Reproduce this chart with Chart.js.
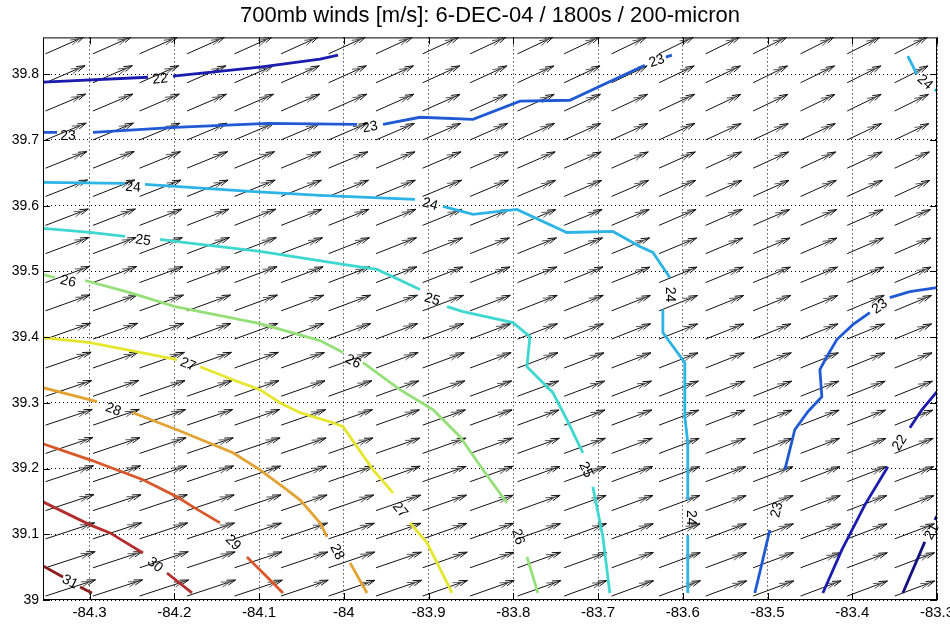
<!DOCTYPE html>
<html>
<head>
<meta charset="utf-8">
<script src="https://cdn.jsdelivr.net/npm/chart.js@4.4.0/dist/chart.umd.min.js"></script>
<style>
  html, body { margin: 0; padding: 0; background: #fff; }
</style>
</head>
<body>
<canvas id="chart-winds" width="950" height="628"></canvas>
<script>
// ============================== DATA

const titleText = '700mb winds [m/s]: 6-DEC-04 / 1800s / 200-micron';

const xTicks = [-84.3, -84.2, -84.1, -84.0, -83.9, -83.8, -83.7, -83.6, -83.5, -83.4, -83.3];
const yTicks = [39.0, 39.1, 39.2, 39.3, 39.4, 39.5, 39.6, 39.7, 39.8];

// quiver grid (tails), rows listed top to bottom
const arrowLon = [-84.352, -84.296, -84.241, -84.185, -84.129, -84.074, -84.018, -83.962, -83.907, -83.851,
                  -83.795, -83.740, -83.684, -83.628, -83.573, -83.517, -83.461, -83.406, -83.350];
const arrowLat = [39.831, 39.787, 39.744, 39.700, 39.657, 39.614, 39.570, 39.527, 39.483, 39.440,
                  39.397, 39.353, 39.310, 39.266, 39.223, 39.180, 39.136, 39.093, 39.049, 39.006];

// wind components [m/s]
const windU = [
  [20.5, 20.4, 20.3, 20.1, 20.0, 19.8, 19.7, 19.5, 19.3, 19.1, 18.9, 18.7, 18.5, 18.3, 18.1, 17.9, 17.7, 17.5, 17.4],
  [20.8, 20.7, 20.6, 20.4, 20.3, 20.1, 19.9, 19.7, 19.5, 19.3, 19.1, 18.9, 18.7, 18.5, 18.3, 18.1, 17.9, 17.7, 17.6],
  [21.1, 21.0, 20.9, 20.7, 20.5, 20.3, 20.1, 19.9, 19.7, 19.5, 19.3, 19.1, 18.9, 18.7, 18.5, 18.3, 18.1, 17.9, 17.8],
  [21.4, 21.3, 21.2, 21.0, 20.8, 20.6, 20.4, 20.2, 20.0, 19.8, 19.5, 19.3, 19.1, 18.9, 18.7, 18.5, 18.3, 18.1, 18.0],
  [21.8, 21.7, 21.5, 21.3, 21.1, 20.9, 20.7, 20.5, 20.2, 20.0, 19.8, 19.5, 19.3, 19.1, 18.9, 18.7, 18.5, 18.4, 18.3],
  [22.1, 22.0, 21.8, 21.6, 21.4, 21.2, 21.0, 20.7, 20.5, 20.2, 20.0, 19.8, 19.5, 19.3, 19.1, 18.9, 18.8, 18.6, 18.5],
  [22.5, 22.3, 22.2, 22.0, 21.7, 21.5, 21.3, 21.0, 20.7, 20.5, 20.2, 20.0, 19.8, 19.5, 19.3, 19.2, 19.0, 18.9, 18.8],
  [22.8, 22.7, 22.5, 22.3, 22.0, 21.8, 21.5, 21.3, 21.0, 20.7, 20.5, 20.2, 20.0, 19.8, 19.6, 19.4, 19.2, 19.1, 19.0],
  [23.1, 23.0, 22.8, 22.6, 22.4, 22.1, 21.8, 21.5, 21.2, 21.0, 20.7, 20.4, 20.2, 20.0, 19.8, 19.6, 19.4, 19.3, 19.2],
  [23.4, 23.3, 23.1, 22.9, 22.6, 22.4, 22.1, 21.8, 21.5, 21.2, 20.9, 20.6, 20.4, 20.2, 20.0, 19.8, 19.6, 19.5, 19.4],
  [23.7, 23.5, 23.3, 23.1, 22.8, 22.5, 22.2, 21.9, 21.6, 21.3, 21.0, 20.7, 20.5, 20.3, 20.1, 19.9, 19.7, 19.6, 19.5],
  [24.0, 23.8, 23.6, 23.4, 23.1, 22.8, 22.5, 22.2, 21.9, 21.6, 21.3, 21.0, 20.7, 20.5, 20.3, 20.1, 19.9, 19.8, 19.7],
  [24.3, 24.1, 23.9, 23.7, 23.4, 23.1, 22.8, 22.5, 22.2, 21.9, 21.6, 21.3, 21.0, 20.7, 20.5, 20.3, 20.1, 20.0, 19.9],
  [24.6, 24.4, 24.2, 24.0, 23.7, 23.4, 23.1, 22.8, 22.5, 22.1, 21.8, 21.5, 21.2, 20.9, 20.7, 20.5, 20.3, 20.2, 20.1],
  [24.9, 24.7, 24.5, 24.3, 24.0, 23.7, 23.4, 23.0, 22.7, 22.3, 22.0, 21.7, 21.4, 21.1, 20.9, 20.7, 20.5, 20.4, 20.3],
  [25.2, 25.0, 24.8, 24.5, 24.2, 23.9, 23.6, 23.2, 22.9, 22.5, 22.2, 21.9, 21.6, 21.3, 21.1, 20.9, 20.7, 20.6, 20.5],
  [25.5, 25.3, 25.1, 24.8, 24.5, 24.2, 23.8, 23.5, 23.1, 22.7, 22.4, 22.1, 21.8, 21.5, 21.3, 21.1, 20.9, 20.8, 20.7],
  [25.8, 25.6, 25.3, 25.0, 24.7, 24.4, 24.1, 23.7, 23.3, 22.9, 22.6, 22.3, 21.9, 21.6, 21.4, 21.2, 21.1, 21.0, 20.9],
  [26.1, 25.9, 25.6, 25.3, 25.0, 24.6, 24.3, 23.9, 23.5, 23.1, 22.7, 22.4, 22.0, 21.7, 21.5, 21.3, 21.2, 21.1, 21.0],
  [26.3, 26.1, 25.8, 25.5, 25.2, 24.8, 24.4, 24.0, 23.6, 23.2, 22.8, 22.4, 22.1, 21.8, 21.6, 21.4, 21.3, 21.2, 21.1],
];
const windV = [
  [11.7, 11.7, 11.6, 11.6, 11.6, 11.6, 11.6, 11.6, 11.5, 11.5, 11.5, 11.5, 11.5, 11.5, 11.5, 11.5, 11.5, 11.5, 11.5],
  [11.6, 11.6, 11.6, 11.5, 11.5, 11.5, 11.5, 11.5, 11.5, 11.4, 11.4, 11.4, 11.4, 11.4, 11.4, 11.4, 11.4, 11.4, 11.4],
  [11.5, 11.5, 11.5, 11.4, 11.4, 11.4, 11.4, 11.4, 11.3, 11.3, 11.3, 11.3, 11.3, 11.3, 11.3, 11.3, 11.3, 11.3, 11.3],
  [11.4, 11.4, 11.3, 11.3, 11.3, 11.3, 11.3, 11.2, 11.2, 11.2, 11.2, 11.2, 11.2, 11.2, 11.1, 11.1, 11.1, 11.1, 11.1],
  [11.3, 11.3, 11.2, 11.2, 11.2, 11.2, 11.1, 11.1, 11.1, 11.1, 11.1, 11.0, 11.0, 11.0, 11.0, 11.0, 11.0, 11.0, 11.0],
  [11.2, 11.2, 11.1, 11.1, 11.1, 11.0, 11.0, 11.0, 11.0, 11.0, 10.9, 10.9, 10.9, 10.9, 10.9, 10.9, 10.9, 10.9, 10.9],
  [11.1, 11.1, 11.0, 11.0, 11.0, 10.9, 10.9, 10.9, 10.9, 10.8, 10.8, 10.8, 10.8, 10.8, 10.8, 10.7, 10.7, 10.7, 10.7],
  [11.0, 11.0, 10.9, 10.9, 10.9, 10.8, 10.8, 10.8, 10.7, 10.7, 10.7, 10.7, 10.7, 10.6, 10.6, 10.6, 10.6, 10.6, 10.6],
  [10.9, 10.9, 10.8, 10.8, 10.8, 10.7, 10.7, 10.7, 10.6, 10.6, 10.6, 10.6, 10.5, 10.5, 10.5, 10.5, 10.5, 10.5, 10.5],
  [10.8, 10.8, 10.7, 10.7, 10.7, 10.6, 10.6, 10.6, 10.5, 10.5, 10.5, 10.5, 10.4, 10.4, 10.4, 10.4, 10.4, 10.4, 10.4],
  [10.7, 10.7, 10.7, 10.6, 10.6, 10.6, 10.5, 10.5, 10.5, 10.4, 10.4, 10.4, 10.4, 10.3, 10.3, 10.3, 10.3, 10.3, 10.3],
  [10.7, 10.7, 10.6, 10.6, 10.6, 10.5, 10.5, 10.5, 10.4, 10.4, 10.4, 10.3, 10.3, 10.3, 10.3, 10.3, 10.3, 10.3, 10.3],
  [10.7, 10.7, 10.6, 10.6, 10.6, 10.5, 10.5, 10.4, 10.4, 10.4, 10.3, 10.3, 10.3, 10.3, 10.2, 10.2, 10.2, 10.2, 10.2],
  [10.7, 10.7, 10.6, 10.6, 10.6, 10.5, 10.5, 10.4, 10.4, 10.4, 10.3, 10.3, 10.3, 10.2, 10.2, 10.2, 10.2, 10.2, 10.2],
  [10.8, 10.7, 10.7, 10.6, 10.6, 10.5, 10.5, 10.4, 10.4, 10.4, 10.3, 10.3, 10.3, 10.2, 10.2, 10.2, 10.2, 10.2, 10.2],
  [10.8, 10.8, 10.7, 10.7, 10.6, 10.6, 10.5, 10.5, 10.4, 10.4, 10.3, 10.3, 10.3, 10.2, 10.2, 10.2, 10.2, 10.2, 10.2],
  [10.9, 10.8, 10.8, 10.7, 10.7, 10.6, 10.6, 10.5, 10.5, 10.4, 10.4, 10.3, 10.3, 10.3, 10.2, 10.2, 10.2, 10.2, 10.2],
  [10.9, 10.9, 10.8, 10.8, 10.7, 10.7, 10.6, 10.6, 10.5, 10.5, 10.4, 10.4, 10.3, 10.3, 10.3, 10.2, 10.2, 10.2, 10.2],
  [11.0, 10.9, 10.9, 10.8, 10.8, 10.7, 10.7, 10.6, 10.6, 10.5, 10.5, 10.4, 10.4, 10.3, 10.3, 10.3, 10.2, 10.2, 10.2],
  [11.0, 11.0, 10.9, 10.9, 10.8, 10.8, 10.7, 10.7, 10.6, 10.6, 10.5, 10.5, 10.4, 10.4, 10.3, 10.3, 10.3, 10.2, 10.2],
];

// speed contours, null = gap left for the inline label
const lon21 = [-83.3403, -83.3144, null, -83.3026, -83.3000];
const lat21 = [39.0107, 39.0884, null, 39.1219, 39.1280];

const lon22 = [-84.355, -84.2311, null, -84.2016, -84.0989, -84.0281, -84.0068, null,
               -83.4347, -83.4123, -83.3851, -83.3580, null, -83.3320, -83.3179, -83.3000];
const lat22 = [39.7878, 39.7954, null, 39.7970, 39.8107, 39.8229, 39.8290, null,
               39.0107, 39.0762, 39.1448, 39.2027, null, 39.2621, 39.2895, 39.3170];

const lon23 = [-84.355, -84.3385, null, -84.2960, -84.1992, -84.0895, -83.9844, null,
               -83.9537, -83.9101, -83.8476, -83.7921, -83.7333, -83.6448, null, -83.6200, -83.6129, null,
               -83.5150, -83.5056, -83.4973, null, -83.4796, -83.4678, -83.4524, -83.4359, -83.4382, -83.4300,
               -83.4182, -83.3993, -83.3793, null, -83.3557, -83.3320, -83.3000];
const lat23 = [39.7116, 39.7116, null, 39.7116, 39.7192, 39.7253, 39.7238, null,
               39.7238, 39.7345, 39.7314, 39.7589, 39.7604, 39.8137, null, 39.8259, 39.8290, null,
               39.0107, 39.0610, 39.1067, null, 39.1981, 39.2590, 39.2865, 39.3093, 39.3505, 39.3703,
               39.3962, 39.4190, 39.4373, null, 39.4602, 39.4693, 39.4754];

const lon24 = [-83.3344, -83.3238, null, -83.3026, -83.3000, null,
               -84.355, -84.2582, null, -84.2346, -84.1992, -84.1107, -84.0281, -83.9160, null,
               -83.8829, -83.8476, -83.7957, -83.7368, -83.6825, -83.6507, -83.6353, -83.6153, null,
               -83.6235, -83.6235, -83.5976, -83.5976, -83.5941, -83.5941, null, -83.5941, -83.5941];
const lat24 = [39.8274, 39.8000, null, 39.7771, 39.7741, null,
               39.6354, 39.6339, null, 39.6324, 39.6293, 39.6217, 39.6156, 39.6095, null,
               39.5989, 39.5867, 39.5943, 39.5592, 39.5608, 39.5379, 39.5288, 39.4907, null,
               39.4419, 39.4069, 39.3611, 39.2789, 39.2392, 39.1524, null, 39.0990, 39.0107];

const lon25 = [-84.355, -84.2995, -84.2582, null, -84.2169, -84.1992, -84.0989, -84.0009, -83.9608, -83.9101, null,
               -83.8782, -83.8594, -83.8004, -83.7804, -83.7839, -83.7533, -83.7368, -83.7179, null,
               -83.7061, -83.6943, -83.6861];
const lat25 = [39.5653, 39.5592, 39.5531, null, 39.5486, 39.5455, 39.5303, 39.5105, 39.5029, 39.4724, null,
               39.4465, 39.4389, 39.4221, 39.4008, 39.3550, 39.3154, 39.2743, 39.2240, null,
               39.1722, 39.0960, 39.0107];

const lon26 = [-84.355, -84.3408, null, -84.3054, -84.2523, -84.1992, -84.0989, -84.0281, -84.0009, null,
               -83.9773, -83.9337, -83.8947, -83.8629, -83.8358, -83.8075, null, -83.7839, -83.7710];
const lat26 = [39.4952, 39.4907, null, 39.4861, 39.4678, 39.4465, 39.4206, 39.3947, 39.3764, null,
               39.3611, 39.3200, 39.2895, 39.2484, 39.1981, 39.1478, null, 39.0655, 39.0107];

const lon27 = [-84.355, -84.2995, -84.1969, null, -84.1697, -84.1308, -84.0989, -84.0753, -84.0517, -84.0127,
               -84.0009, -83.9655, -83.9419, null, -83.9219, -83.9018, -83.8723];
const lat27 = [39.3992, 39.3916, 39.3657, null, 39.3550, 39.3352, 39.3200, 39.3002, 39.2850, 39.2697,
               39.2636, 39.1981, 39.1630, null, 39.1173, 39.0869, 39.0107];

const lon28 = [-84.355, -84.2913, null, -84.2488, -84.1969, -84.1308, -84.0989, -84.0718, -84.0517, -84.0281,
               -84.0198, null, -83.9927, -83.9726];
const lat28 = [39.3230, 39.3017, null, 39.2850, 39.2590, 39.2240, 39.1981, 39.1722, 39.1524, 39.1173,
               39.0960, null, 39.0564, 39.0107];

const lon29 = [-84.355, -84.2995, -84.2370, -84.1969, -84.1780, -84.1461, null, -84.1143, -84.0906, -84.0718];
const lat29 = [39.2377, 39.2133, 39.1829, 39.1570, 39.1417, 39.1173, null, 39.0655, 39.0350, 39.0107];

const lon30 = [-84.355, -84.2995, -84.2759, -84.2370, null, -84.2087, -84.1792];
const lat30 = [39.1493, 39.1143, 39.1021, 39.0716, null, 39.0411, 39.0107];

const lon31 = [-84.355, -84.3314, null, -84.3113, -84.2972];
const lat31 = [39.0518, 39.0350, null, 39.0198, 39.0107];

// inline contour labels
const labelLevel = [21, 22, 22, 23, 23, 23, 23, 23, 24, 24, 24, 24, 24, 25, 25, 25, 26, 26, 26, 27, 27, 28, 28, 29, 30, 31];
const labelLon = [-83.3061, -84.2169, -83.3439, -84.3254, -83.9690, -83.6306, -83.4889, -83.3675,
                  -83.3144, -84.2488, -83.8983, -83.6153, -83.5905, -84.2369, -83.8959, -83.7144,
                  -84.3254, -83.9891, -83.7945, -84.1839, -83.9337, -84.2723, -84.0080, -84.1308, -84.2228, -84.3231];
const labelLat = [39.1036, 39.7924, 39.2392, 39.7055, 39.7192, 39.8198, 39.1371, 39.4465,
                  39.7878, 39.6278, 39.6019, 39.4648, 39.1250, 39.5470, 39.4571, 39.1981,
                  39.4846, 39.3627, 39.0960, 39.3581, 39.1371, 39.2895, 39.0731, 39.0869, 39.0533, 39.0274];

// ============================== STYLE

const FONT = "'Liberation Sans', Arial, Helvetica, sans-serif";
const arrowScale = 0.002242; // degrees per m/s
const levelColors = {
  21: '#12127e', 22: '#1c1cae', 23: '#1f5ad4', 24: '#2cb4e6', 25: '#3ed8d0', 26: '#96e07a',
  27: '#e6e62e', 28: '#e4a232', 29: '#d9582a', 30: '#b42c2c', 31: '#8a1c1c',
};
const contourLon = { 21: lon21, 22: lon22, 23: lon23, 24: lon24, 25: lon25, 26: lon26, 27: lon27, 28: lon28, 29: lon29, 30: lon30, 31: lon31 };
const contourLat = { 21: lat21, 22: lat22, 23: lat23, 24: lat24, 25: lat25, 26: lat26, 27: lat27, 28: lat28, 29: lat29, 30: lat30, 31: lat31 };

function tickText(v) {
  return String(Number(v.toFixed(1)));
}

// ============================== PLUGINS

function quiverPlugin() {
  return {
    id: 'quiver',
    beforeDatasetsDraw(chart) {
      const { ctx, chartArea: a, scales: { x, y } } = chart;
      const meta = chart.getDatasetMeta(0);
      const pts = chart.data.datasets[0].data;
      const headLen = 9;
      const headAng = 0.3;

      ctx.save();
      ctx.beginPath();
      ctx.rect(a.left, a.top, a.right - a.left, a.bottom - a.top);
      ctx.clip();
      ctx.lineWidth = 1;

      const chevron = (tx, ty, ang, color) => {
        ctx.strokeStyle = color;
        ctx.beginPath();
        ctx.moveTo(tx - headLen * Math.cos(ang - headAng), ty - headLen * Math.sin(ang - headAng));
        ctx.lineTo(tx, ty);
        ctx.lineTo(tx - headLen * Math.cos(ang + headAng), ty - headLen * Math.sin(ang + headAng));
        ctx.stroke();
      };

      meta.data.forEach((el, i) => {
        const p = pts[i];
        const x0 = el.x;
        const y0 = el.y;
        const x1 = x.getPixelForValue(p.x + p.u * arrowScale);
        const y1 = y.getPixelForValue(p.y + p.v * arrowScale);
        const ang = Math.atan2(y1 - y0, x1 - x0);

        ctx.strokeStyle = '#111';
        ctx.beginPath();
        ctx.moveTo(x0, y0);
        ctx.lineTo(x1, y1);
        ctx.stroke();
        chevron(x1 - 6 * Math.cos(ang), y1 - 6 * Math.sin(ang), ang, '#555');
        chevron(x1, y1, ang, '#111');
      });
      ctx.restore();
    },
  };
}

function contourLabelPlugin() {
  return {
    id: 'contourLabels',
    afterDatasetsDraw(chart) {
      const { ctx, scales: { x, y } } = chart;
      ctx.save();
      ctx.font = '14px ' + FONT;
      ctx.fillStyle = '#000';
      ctx.textAlign = 'center';
      ctx.textBaseline = 'middle';

      labelLevel.forEach((lev, i) => {
        const px = x.getPixelForValue(labelLon[i]);
        const py = y.getPixelForValue(labelLat[i]);
        // direction of the nearest contour piece
        const lons = contourLon[lev];
        const lats = contourLat[lev];
        let best = -1;
        let bestD = Infinity;
        for (let k = 0; k < lons.length - 1; k++) {
          if (lons[k] === null || lons[k + 1] === null) continue;
          const mx = (x.getPixelForValue(lons[k]) + x.getPixelForValue(lons[k + 1])) / 2;
          const my = (y.getPixelForValue(lats[k]) + y.getPixelForValue(lats[k + 1])) / 2;
          const d = (mx - px) ** 2 + (my - py) ** 2;
          if (d < bestD) { bestD = d; best = k; }
        }
        let ang = 0;
        if (best >= 0) {
          ang = Math.atan2(
            y.getPixelForValue(lats[best + 1]) - y.getPixelForValue(lats[best]),
            x.getPixelForValue(lons[best + 1]) - x.getPixelForValue(lons[best])
          );
          if (ang > Math.PI / 2) ang -= Math.PI;
          if (ang < -Math.PI / 2) ang += Math.PI;
        }
        ctx.save();
        ctx.translate(px, py);
        ctx.rotate(ang);
        ctx.fillText(String(lev), 0, 0);
        ctx.restore();
      });
      ctx.restore();
    },
  };
}

function framePlugin() {
  return {
    id: 'frame',
    afterDatasetsDraw(chart) {
      const { ctx, chartArea: a, scales: { x, y } } = chart;
      ctx.save();
      ctx.strokeStyle = '#000';
      ctx.lineWidth = 1;
      ctx.strokeRect(a.left + 0.5, a.top + 0.5, a.right - a.left - 1, a.bottom - a.top - 1);
      ctx.beginPath();
      xTicks.forEach(v => {
        const px = Math.round(x.getPixelForValue(v)) + 0.5;
        ctx.moveTo(px, a.bottom); ctx.lineTo(px, a.bottom - 7);
        ctx.moveTo(px, a.top); ctx.lineTo(px, a.top + 7);
      });
      yTicks.forEach(v => {
        const py = Math.round(y.getPixelForValue(v)) + 0.5;
        ctx.moveTo(a.left, py); ctx.lineTo(a.left + 7, py);
        ctx.moveTo(a.right, py); ctx.lineTo(a.right - 7, py);
      });
      ctx.stroke();
      ctx.restore();
    },
  };
}

// ============================== CHART

const windPoints = [];
arrowLat.forEach((lat, r) => {
  arrowLon.forEach((lon, c) => {
    windPoints.push({ x: lon, y: lat, u: windU[r][c], v: windV[r][c] });
  });
});

const contourSets = Object.keys(contourLon).map(lev => ({
  label: lev,
  data: contourLon[lev].map((lon, i) => (lon === null ? { x: null, y: null } : { x: lon, y: contourLat[lev][i] })),
  showLine: true,
  spanGaps: false,
  borderColor: levelColors[lev],
  borderWidth: 2.8,
  pointRadius: 0,
  tension: 0,
}));

const chart = new Chart(document.getElementById('chart-winds'), {
  type: 'scatter',
  data: {
    datasets: [
      { label: 'wind', data: windPoints, pointRadius: 0, showLine: false },
      ...contourSets,
    ],
  },
  options: {
    responsive: false,
    animation: false,
    events: [],
    layout: { padding: { left: 0, right: 13, top: 0, bottom: 0 } },
    plugins: {
      legend: { display: false },
      tooltip: { enabled: false },
      title: {
        display: true,
        text: titleText,
        fullSize: false,
        color: '#000',
        font: { family: FONT, size: 22, weight: 'normal' },
        padding: { top: 3, bottom: 8 },
      },
    },
    scales: {
      x: {
        type: 'linear',
        min: -84.355,
        max: -83.3,
        afterBuildTicks: s => { s.ticks = xTicks.map(v => ({ value: v })); },
        afterFit: s => { s.height = 28; s.paddingLeft = 0; s.paddingRight = 0; },
        ticks: { callback: tickText, color: '#000', font: { family: FONT, size: 15 }, padding: 4, maxRotation: 0, autoSkip: false },
        grid: { color: '#000', lineWidth: 1, drawTicks: false },
        border: { display: false, dash: [1, 3] },
      },
      y: {
        type: 'linear',
        min: 39.0,
        max: 39.856,
        afterBuildTicks: s => { s.ticks = yTicks.map(v => ({ value: v })); },
        afterFit: s => { s.width = 43; s.paddingTop = 0; s.paddingBottom = 0; },
        ticks: { callback: tickText, color: '#000', font: { family: FONT, size: 14 }, padding: 4, autoSkip: false },
        grid: { color: '#000', lineWidth: 1, drawTicks: false },
        border: { display: false, dash: [1, 3] },
      },
    },
  },
  plugins: [quiverPlugin(), contourLabelPlugin(), framePlugin()],
});
</script>
</body>
</html>
